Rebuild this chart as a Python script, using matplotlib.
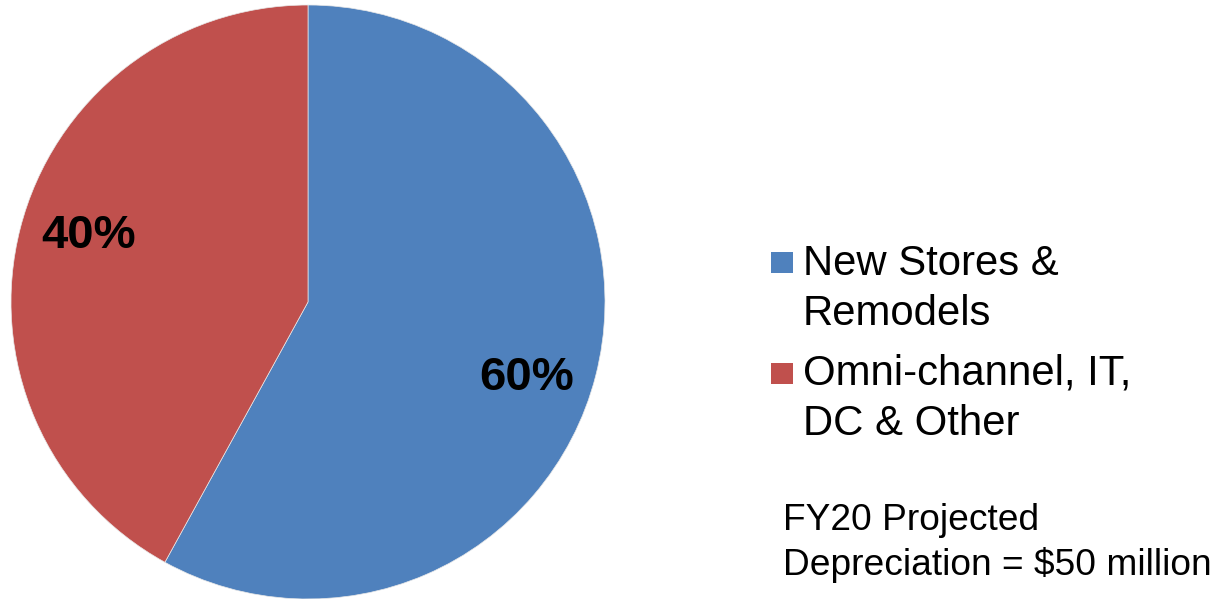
import numpy as np
import matplotlib.pyplot as plt
from matplotlib.patches import Rectangle

plt.rcParams['font.family'] = ['Liberation Sans', 'DejaVu Sans']

# Depreciation split (slice sizes; labels as printed)
categories = ["New Stores &\nRemodels", "Omni-channel, IT,\nDC & Other"]
shares = [58, 42]
pct_labels = ["60%", "40%"]
colors = ["#4F81BD", "#C0504D"]
note = "FY20 Projected\nDepreciation = $50 million"

W, H = 1216, 599
fig = plt.figure(figsize=(W / 100, H / 100), dpi=100)

# Pie axes: circle spans x 11..605, y 5..599 in pixels
ax = fig.add_axes([11 / W, 0, 594 / W, 594 / H])
wedges, _ = ax.pie(
    shares, colors=colors, startangle=90, counterclock=False,
    wedgeprops=dict(linewidth=0.5, edgecolor='#E8E8E8'),
)
ax.set_xlim(-1, 1)
ax.set_ylim(-1, 1)
ax.set_aspect('equal')
ax.axis('off')

# percentage labels, a bit clockwise of each wedge's middle
pct_size = 34
for w, lab in zip(wedges, pct_labels):
    ang = np.deg2rad((w.theta1 + w.theta2) / 2 - 3.5)
    ax.annotate(lab, (0.775 * np.cos(ang), 0.775 * np.sin(ang)),
                xytext=(0, -0.716 * pct_size / 2), textcoords='offset points',
                ha='center', va='baseline', fontsize=pct_size,
                fontweight='bold', color='black')

# Legend drawn by hand so the swatch lines up with the first text line
legend_size = 30.2
entry_top = [252, 363]      # pixel y of swatch tops
entry_base = [275, 385]     # pixel y of first text baseline
line_gap = 50
for color, label, top, base in zip(colors, categories, entry_top, entry_base):
    fig.patches.append(Rectangle((771 / W, 1 - (top + 21) / H), 22 / W, 21 / H,
                                 transform=fig.transFigure, facecolor=color,
                                 edgecolor='none'))
    for i, line in enumerate(label.split("\n")):
        fig.text(803 / W, 1 - (base + i * line_gap) / H, line,
                 fontsize=legend_size, va='baseline', ha='left')

for i, line in enumerate(note.split("\n")):
    fig.text(783 / W, 1 - (530 + i * 45) / H, line, fontsize=26.7,
             va='baseline', ha='left')

fig.savefig("out.png", dpi=100)
